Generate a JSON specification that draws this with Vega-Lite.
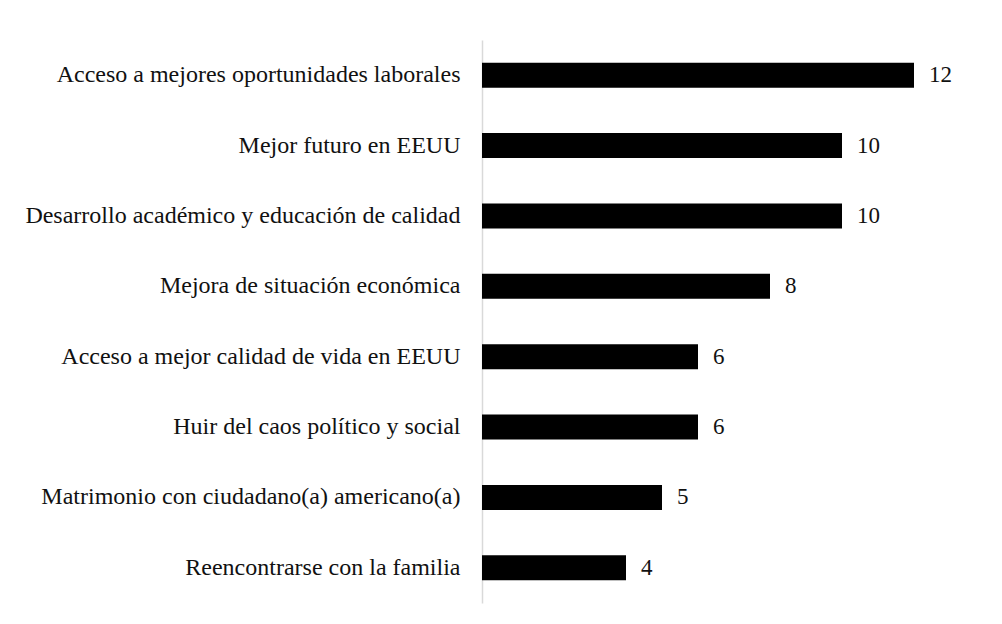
{
  "$schema": "https://vega.github.io/schema/vega-lite/v6.json",
  "autosize": "none",
  "width": 504,
  "height": 563,
  "padding": {"left": 482, "top": 40, "right": 16, "bottom": 21},
  "background": "white",
  "config": {"view": {"stroke": null}, "font": "Liberation Serif"},
  "data": {"values": [
    {"motivo": "Acceso a mejores oportunidades laborales", "n": 12},
    {"motivo": "Mejor futuro en EEUU", "n": 10},
    {"motivo": "Desarrollo académico y educación de calidad", "n": 10},
    {"motivo": "Mejora de situación económica", "n": 8},
    {"motivo": "Acceso a mejor calidad de vida en EEUU", "n": 6},
    {"motivo": "Huir del caos político y social", "n": 6},
    {"motivo": "Matrimonio con ciudadano(a) americano(a)", "n": 5},
    {"motivo": "Reencontrarse con la familia", "n": 4}
  ]},
  "encoding": {
    "y": {"field": "motivo", "type": "nominal", "sort": null,
      "scale": {"paddingInner": 0.645, "paddingOuter": 0.3225},
      "axis": {"title": null, "ticks": false, "domainColor": "#d9d9d9", "domainWidth": 1.5,
        "labelFont": "Liberation Serif", "labelFontSize": 24, "labelColor": "#111111",
        "labelPadding": 22, "labelLimit": 600}},
    "x": {"field": "n", "type": "quantitative", "scale": {"domain": [0, 14]}, "axis": null}
  },
  "layer": [
    {"mark": {"type": "bar", "color": "#000000"}},
    {"mark": {"type": "text", "align": "left", "dx": 15, "font": "Liberation Serif", "fontSize": 23, "color": "#111111"},
     "encoding": {"text": {"field": "n", "type": "quantitative"}}}
  ]
}
